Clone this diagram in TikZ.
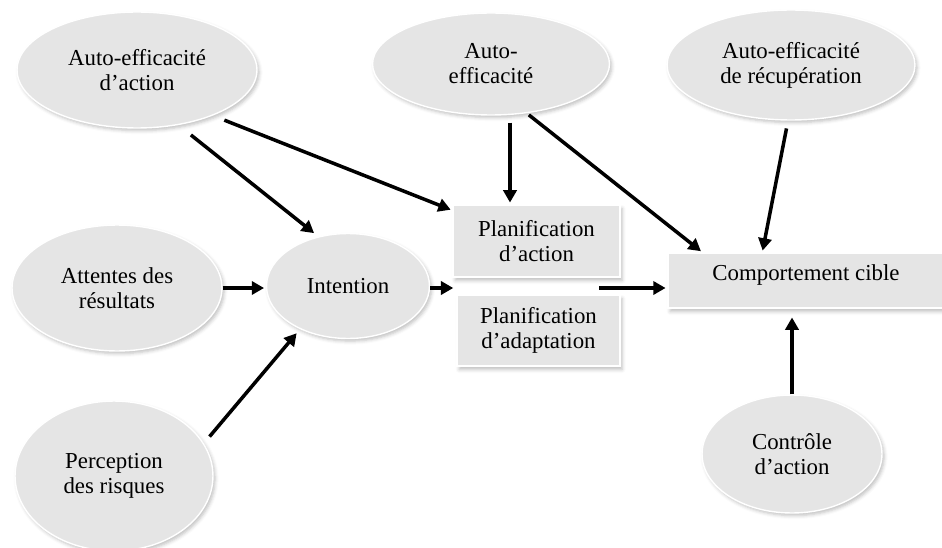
\documentclass[tikz,border=0pt]{standalone}
\usepackage{fontspec}
\setmainfont{Liberation Serif}
\usetikzlibrary{arrows.meta}
\usetikzlibrary{calc}
\usetikzlibrary{shapes.geometric, shadows.blur}

\begin{document}
\begin{tikzpicture}[x=0.02cm, y=-0.02cm,
    bubble/.style={ellipse, fill=gray!20, draw=white, line width=0.8pt, inner sep=1pt, align=center,
        font=\fontsize{13}{14.2}\selectfont,
        blur shadow={shadow xshift=1.2pt, shadow yshift=-1.5pt, shadow blur radius=2pt, shadow opacity=25}},
    planbox/.style={rectangle, fill=gray!20, draw=white, line width=0.8pt, inner sep=1pt, align=center,
        font=\fontsize{13}{14.2}\selectfont,
        blur shadow={shadow xshift=1.2pt, shadow yshift=-2pt, shadow blur radius=2pt, shadow opacity=25}},
    arr/.style={-{Triangle[length=7pt,width=7.5pt]}, line width=2pt, shorten >=1pt}]
        \newcommand{\figtwentyshiftae}{0.38cm}
        \newcommand{\figtwentyshiftccl}{0.7cm}
        \newcommand{\figtwentyshiftccr}{1.9cm}
        \useasboundingbox (0,0) rectangle (942,547);
        % ellipses
        \node[bubble, minimum width=4.8cm, minimum height=2.32cm] (aea) at (137,70) {Auto-efficacité\\d’action};
        \node[bubble, minimum width=4.74cm, minimum height=2.04cm] (ae) at (491,64) {Auto-\\efficacité};
        \node[bubble, minimum width=4.96cm, minimum height=2.2cm] (aer) at (791,65) {Auto-efficacité\\de récupération};
        \node[bubble, minimum width=4.2cm, minimum height=2.52cm] (att) at (117,288) {Attentes des\\résultats};
        \node[bubble, minimum width=3.26cm, minimum height=2.1cm] (int) at (348,286) {Intention};
        \node[bubble, minimum width=3.96cm, minimum height=3cm] (per) at (114,476) {Perception\\des risques};
        \node[bubble, minimum width=3.6cm, minimum height=2.36cm] (con) at (792,454) {Contrôle\\d’action};
        % boxes
        \node[planbox, minimum width=3.34cm, minimum height=1.44cm] (pa) at (536.5,241) {Planification\\d’action};
        \node[planbox, minimum width=3.26cm, minimum height=1.42cm] (pd) at (538.5,330.5) {Planification\\d’adaptation};
        \node[planbox, minimum width=5.52cm, minimum height=1.1cm, inner ysep=0pt, text height=9pt, text depth=9pt] (cc) at (806,280.5) {Comportement cible};
        \coordinate (planin) at (455,288);
        \coordinate (planout) at (599,288);
        % arrows
        \draw[arr, shorten <=9pt, shorten >=3pt] (aea.-53) -- (int.121);
        \draw[arr, shorten <=7pt] (aea.-31) -- (pa.160);
        \draw[arr, shorten <=4pt] ([xshift=\figtwentyshiftae]ae.south) -- ([xshift=\figtwentyshiftae]ae.south |- pa.north);
        \draw[arr, shorten <=1.5pt] (ae.-54) -- ([xshift=\figtwentyshiftccl]cc.north west);
        \draw[arr, shorten <=4.5pt] ([xshift=-0.06cm]aer.south) -- ([xshift=\figtwentyshiftccr]cc.north west);
        \draw[arr] (att.east) -- (att.east -| int.west);
        \draw[arr, shorten <=5pt, shorten >=3pt] (per.20) -- (int.222);
        \draw[arr] (int.east |- planin) -- (planin);
        \draw[arr] (planout) -- (planout -| cc.west);
        \draw[arr, shorten >=5pt] (con.north) -- (con.north |- cc.south);
\end{tikzpicture}
\end{document}
